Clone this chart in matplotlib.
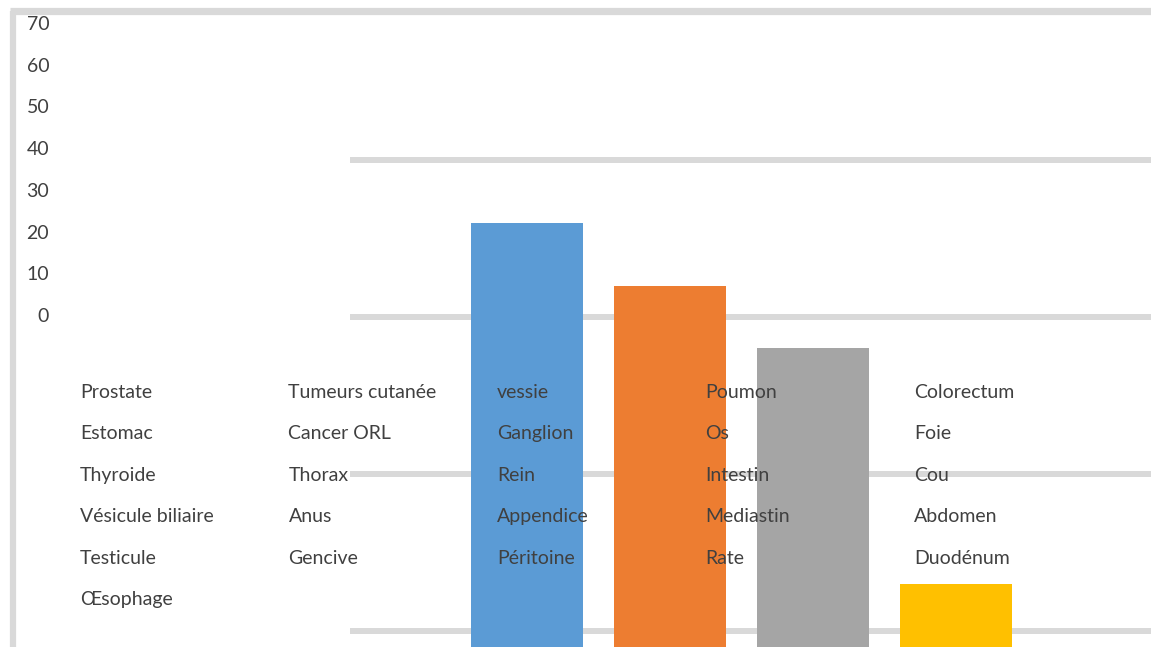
import matplotlib
matplotlib.use("Agg")
import matplotlib.pyplot as plt
from matplotlib.lines import Line2D

# ---- data ----
bar_values = [36, 32, 28, 13]
bar_colors = ["#5B9BD5", "#ED7D31", "#A5A5A5", "#FFC000"]
grid_values = [10, 20, 30, 40]
ytick_labels = [0, 10, 20, 30, 40, 50, 60, 70]
legend_labels = [
    "Prostate", "Tumeurs cutanée", "vessie", "Poumon", "Colorectum",
    "Estomac", "Cancer ORL", "Ganglion", "Os", "Foie",
    "Thyroide", "Thorax", "Rein", "Intestin", "Cou",
    "Vésicule biliaire", "Anus", "Appendice", "Mediastin", "Abdomen",
    "Testicule", "Gencive", "Péritoine", "Rate", "Duodénum",
    "Œsophage",
]

W, H = 1151, 647
fig = plt.figure(figsize=(W / 100, H / 100), dpi=100)
fig.patch.set_facecolor("white")

FONT = ["Lato", "DejaVu Sans"]
TXT = "#404040"
GRID = "#D9D9D9"
FS = 14

# ---- main bar axes (extends below the figure) ----
ppu = 15.7               # pixels per value unit
y10 = 16                 # pixel (from bottom) of value 10
ymin, ymax = 0, 45
bottom_px = y10 - 10 * ppu
ax_h_px = (ymax - ymin) * ppu
x_left_px, x_right_px = 350, 1151
cat_x0_px, cat_step_px = 527, 143
ax = fig.add_axes([x_left_px / W, bottom_px / H,
                   (x_right_px - x_left_px) / W, ax_h_px / H])
ax.set_xlim((x_left_px - cat_x0_px) / cat_step_px,
            (x_right_px - cat_x0_px) / cat_step_px)
ax.set_ylim(ymin, ymax)
ax.set_axis_off()
for g in grid_values:
    ax.axhline(g, color=GRID, lw=4.3, zorder=1)
ax.bar(range(len(bar_values)), bar_values, width=112 / cat_step_px,
       color=bar_colors, zorder=2)

# ---- y tick labels axes ----
y0_px, y70_px = H - 315, H - 23
ax2 = fig.add_axes([52 / W, y0_px / H, 0.01, (y70_px - y0_px) / H])
ax2.set_ylim(0, 70)
ax2.set_yticks(ytick_labels)
ax2.set_yticklabels([str(v) for v in ytick_labels], family=FONT,
                    fontsize=FS, color=TXT)
ax2.tick_params(axis="y", length=0, pad=2)
ax2.set_xticks([])
for s in ax2.spines.values():
    s.set_visible(False)
ax2.patch.set_visible(False)

# ---- legend-like text grid ----
ncol = 5
col_x0, col_step = 80, 208.5
row_y0, row_step = 392, 41.6
for i, lab in enumerate(legend_labels):
    r, c = divmod(i, ncol)
    fig.text((col_x0 + c * col_step) / W, 1 - (row_y0 + r * row_step) / H,
             lab, family=FONT, fontsize=FS, color=TXT,
             ha="left", va="center", zorder=5)

# ---- frame borders ----
fig.add_artist(Line2D([13 / W, 13 / W], [0, 1 - 11 / H],
                      transform=fig.transFigure, color=GRID, lw=4.5,
                      solid_capstyle="butt", zorder=6))
fig.add_artist(Line2D([10 / W, 1], [1 - 11 / H, 1 - 11 / H],
                      transform=fig.transFigure, color=GRID, lw=5.2,
                      solid_capstyle="butt", zorder=6))

fig.savefig("out.png", dpi=100, facecolor="white")
